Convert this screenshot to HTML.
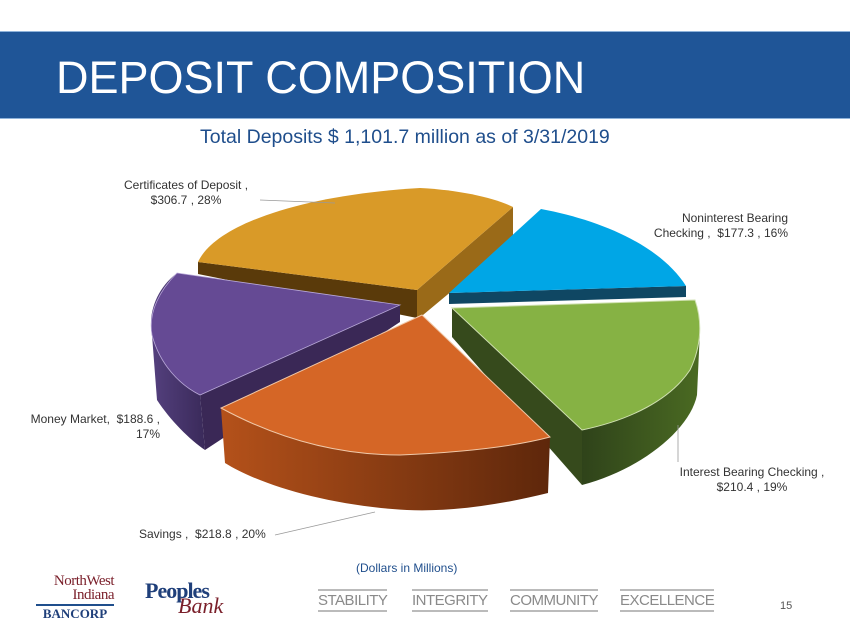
<!DOCTYPE html>
<html><head><meta charset="utf-8"><style>
body{margin:0;width:850px;height:637px;overflow:hidden;background:#fff;font-family:"Liberation Sans",sans-serif;position:relative}
.ban{position:absolute;left:0;top:31px;width:850px;height:86px;background:#1f5597;border-top:1px solid #8fb3da;border-bottom:1px solid #8fb3da}
.ban h1{margin:0;position:absolute;left:56px;top:20px;color:#fff;font-weight:normal;font-size:45px;letter-spacing:0px}
.t{position:absolute;font-size:12px;color:#333;line-height:15px}
.f{position:absolute;top:589px;font-size:15px;color:#8a8a8a;border-top:2px solid #bbb;border-bottom:2px solid #bbb;padding:1px 0;letter-spacing:-0.5px}
</style></head><body>
<div class="ban"><h1>DEPOSIT COMPOSITION</h1></div>
<div style="position:absolute;left:200px;top:126px;font-size:19.5px;color:#1f4e8c">Total Deposits $ 1,101.7 million as of 3/31/2019</div>
<svg style="position:absolute;left:0;top:0" width="850" height="637">
<defs>
<linearGradient id="og" x1="0" x2="1"><stop offset="0" stop-color="#b4511a"/><stop offset="1" stop-color="#5e270b"/></linearGradient>
<linearGradient id="gg" x1="0" x2="1"><stop offset="0" stop-color="#2f431a"/><stop offset="1" stop-color="#4a6a22"/></linearGradient>
<linearGradient id="pg" x1="0" x2="1"><stop offset="0" stop-color="#54407e"/><stop offset="1" stop-color="#3a2a5a"/></linearGradient>
</defs>
<!-- gold -->
<path d="M417,290 L513,207 L513,240 L417,320 Z" fill="#9a6a18"/>
<path d="M198,262 L198,274 L417,318 L417,290 Z" fill="#5a3a0a"/>
<path d="M417,290 L198,262 C215,225 300,195 420,188 C460,190 495,198 513,207 Z" fill="#d99a28"/>
<!-- blue -->
<path d="M449,293 L686,286 L686,297 L449,304 Z" fill="#0f4763"/>
<path d="M449,293 L541,209 C600,220 660,245 686,286 Z" fill="#00a6e6"/>
<!-- purple -->
<path d="M177,273 C155,290 148,315 152,335 L157,400 C170,420 190,440 205,450 L200,395 Z" fill="url(#pg)"/>
<path d="M200,395 L400,305 L400,322 L205,450 Z" fill="#3a2856"/>
<path d="M400,305 L177,273 C160,290 148,312 152,335 C160,365 180,385 200,395 Z" fill="#654a94" stroke="#b8a8d8" stroke-width="0.8"/>
<!-- green -->
<path d="M582,430 C640,410 700,370 700,330 L697,395 C690,430 640,470 582,485 Z" fill="url(#gg)"/>
<path d="M452,308 L582,430 L582,485 L452,337 Z" fill="#364a1c"/>
<path d="M452,308 L695,300 C702,320 702,345 690,370 C670,400 630,420 582,430 Z" fill="#86b244" stroke="#cfe0b0" stroke-width="1"/>
<!-- orange -->
<path d="M221,408 C280,440 340,455 400,455 C470,452 520,445 550,437 L548,493 C500,505 450,512 407,510 C330,506 260,485 225,463 Z" fill="url(#og)"/>
<path d="M422,315 L221,408 C280,440 340,455 400,455 C470,452 520,445 550,437 Z" fill="#d56626" stroke="#f0c8a8" stroke-width="1"/>
<!-- leader lines -->
<polyline points="260,200 335,203" fill="none" stroke="#999" stroke-width="0.8"/>
<polyline points="678,425 678,462" fill="none" stroke="#999" stroke-width="0.8"/>
<polyline points="275,535 375,512" fill="none" stroke="#999" stroke-width="0.8"/>
</svg>
<div class="t" style="left:124px;top:178px;text-align:center">Certificates of Deposit ,<br>$306.7 , 28%</div>
<div class="t" style="left:620px;top:211px;text-align:right;width:168px">Noninterest Bearing<br>Checking ,&nbsp; $177.3 , 16%</div>
<div class="t" style="left:26px;top:412px;text-align:right;width:134px">Money Market,&nbsp; $188.6 ,<br>17%</div>
<div class="t" style="left:672px;top:465px;text-align:center;width:160px">Interest Bearing Checking ,<br>$210.4 , 19%</div>
<div class="t" style="left:139px;top:527px">Savings ,&nbsp; $218.8 , 20%</div>
<div style="position:absolute;left:356px;top:561px;font-size:12px;color:#1f4e8c">(Dollars in Millions)</div>
<div style="position:absolute;left:34px;top:574px;width:80px;font-family:'Liberation Serif',serif;color:#7a1f2a;font-size:15px;line-height:14px;text-align:right;letter-spacing:-0.5px">NorthWest<br>Indiana</div>
<div style="position:absolute;left:36px;top:604px;width:78px;border-top:2px solid #1f4e8c;font-family:'Liberation Serif',serif;color:#1f3f7a;font-size:13px;font-weight:bold;text-align:center">BANCORP</div>
<div style="position:absolute;left:145px;top:578px;font-family:'Liberation Serif',serif;color:#1f3f7a;font-size:22px;font-weight:bold;letter-spacing:-1px">Peoples</div>
<div style="position:absolute;left:178px;top:593px;font-family:'Liberation Serif',serif;color:#7a1f2a;font-size:22px;font-style:italic">Bank</div>
<div class="f" style="left:318px">STABILITY</div>
<div class="f" style="left:412px">INTEGRITY</div>
<div class="f" style="left:510px">COMMUNITY</div>
<div class="f" style="left:620px">EXCELLENCE</div>
<div style="position:absolute;left:780px;top:600px;font-size:11px;color:#555">15</div>
</body></html>
